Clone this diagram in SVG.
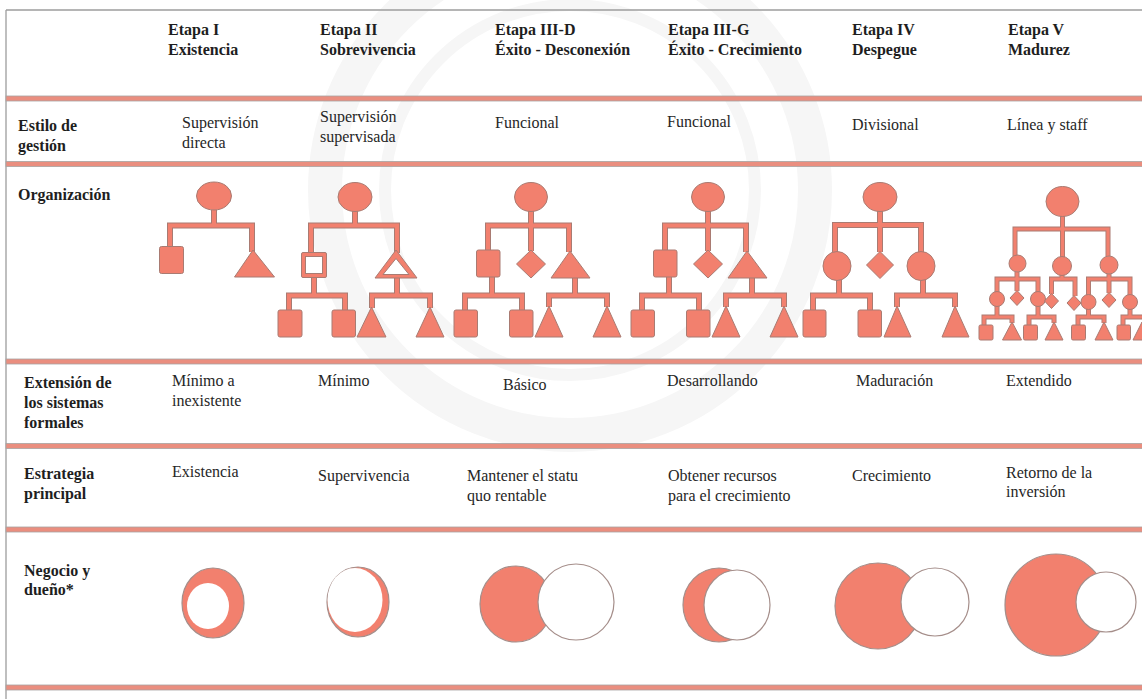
<svg xmlns="http://www.w3.org/2000/svg" xmlns:xlink="http://www.w3.org/1999/xlink" width="1142" height="699" viewBox="0 0 1142 699">
<style>
  .hd { font-family: "Liberation Serif", "Times New Roman", serif; font-weight: bold; font-size: 16px; fill: #1e1e1e; }
  .tx { font-family: "Liberation Serif", "Times New Roman", serif; font-size: 16px; fill: #262626; }
  .band { fill: #ea8e7f; stroke: #a9a3a2; stroke-width: 0.8; }
  .frame { stroke: #9d9d9d; stroke-width: 1.3; fill: none; }
  .shp { fill: #f2806e; stroke: #a97b72; stroke-width: 1; }
  .hole { fill: #ffffff; stroke: #a97b72; stroke-width: 1; }
  .wo { fill: none; stroke: #a97b72; stroke-width: 6; stroke-linejoin: miter; }
  .wi { fill: none; stroke: #f2806e; stroke-width: 4; stroke-linejoin: miter; }
  .wo2 { fill: none; stroke: #a97b72; stroke-width: 5; }
  .wi2 { fill: none; stroke: #f2806e; stroke-width: 3.2; }
  .own { fill: #ffffff; stroke: #a58e8a; stroke-width: 1.2; }
  .bus { fill: #f2806e; stroke: #a58e8a; stroke-width: 1.2; }
  .wm { fill: none; stroke: #f6f6f6; }
</style>
<defs>
  <!-- org chart wiring, stages I to IV -->
  <path id="wires" d="
    M214,210 V225.5 M170,247 V225.5 H252 V252
    M355,211 V225.5 M311,253 V225.5 H397 V253 M314,277 V295.5 M289,310 V295.5 H345 V310 M397,277 V295.5 M372,308 V295.5 H430 V308
    M531,211 V251 M488,250 V225.5 H569 V252 M492,277 V295.5 M465,310 V295.5 H522 V310 M575,278 V295.5 M549,307 V295.5 H607 V307
    M708,211 V251 M665,250 V225.5 H746 V252 M669,277 V295.5 M642,310 V295.5 H699 V310 M752,278 V295.5 M726,307 V295.5 H784 V307
    M880,211 V252 M835,252 V225 H921 V252 M839,280 V295.5 M813,310 V295.5 H870 V310 M923,279 V295.5 M897,307 V295.5 H955 V307"/>
  <!-- stage V wiring -->
  <path id="wires5" d="
    M1062.5,216 V257 M1015,256 V229 H1108 V256
    M1017,272 V291 M997,292 V279 H1038 V292
    M1062,275 V279 M1051.5,294 V279 H1075 V296
    M1109,274 V293 M1088.5,295 V279 H1130 V295
    M997,306 V317 M984,325 V317 H1012 V323
    M1038,306 V317 M1029,325 V317 H1054 V323
    M1088.5,309 V317 M1078,325 V317 H1104 V323
    M1130,309 V317 M1123,325 V317 H1142"/>
</defs>

<rect width="1142" height="699" fill="#ffffff"/>

<!-- faint seal in the background -->
<g id="seal">
  <circle class="wm" cx="570" cy="190" r="245" stroke-width="34"/>
  <circle class="wm" cx="570" cy="190" r="185" stroke-width="12" stroke="#f8f8f8"/>
</g>

<!-- table frame and row separators -->
<g id="table">
  <path class="frame" d="M6,10 H1142 M6,10 V699"/>
  <rect class="band" x="6" y="96" width="1137" height="5"/>
  <rect class="band" x="6" y="161.5" width="1137" height="5"/>
  <rect class="band" x="6" y="359" width="1137" height="5"/>
  <rect class="band" x="6" y="443.5" width="1137" height="5"/>
  <rect class="band" x="6" y="527" width="1137" height="5"/>
  <rect class="band" x="6" y="685" width="1137" height="5"/>
</g>

<!-- column headings -->
<g id="headings">
  <text class="hd" x="168" y="35">Etapa I</text>
  <text class="hd" x="168" y="55">Existencia</text>
  <text class="hd" x="320" y="35">Etapa II</text>
  <text class="hd" x="320" y="55">Sobrevivencia</text>
  <text class="hd" x="495" y="35">Etapa III-D</text>
  <text class="hd" x="495" y="55">Éxito - Desconexión</text>
  <text class="hd" x="668" y="35">Etapa III-G</text>
  <text class="hd" x="668" y="55">Éxito - Crecimiento</text>
  <text class="hd" x="852" y="35">Etapa IV</text>
  <text class="hd" x="852" y="55">Despegue</text>
  <text class="hd" x="1008" y="35">Etapa V</text>
  <text class="hd" x="1008" y="55">Madurez</text>
</g>

<!-- row headings -->
<g id="rows">
  <text class="hd" x="18" y="131">Estilo de</text>
  <text class="hd" x="18" y="151">gestión</text>
  <text class="hd" x="18" y="200">Organización</text>
  <text class="hd" x="24" y="388">Extensión de</text>
  <text class="hd" x="24" y="408">los sistemas</text>
  <text class="hd" x="24" y="428">formales</text>
  <text class="hd" x="24" y="479">Estrategia</text>
  <text class="hd" x="24" y="499">principal</text>
  <text class="hd" x="24" y="576">Negocio y</text>
  <text class="hd" x="24" y="595">dueño*</text>
</g>

<!-- cell texts -->
<g id="cells">
  <text class="tx" x="182" y="128">Supervisión</text>
  <text class="tx" x="182" y="148">directa</text>
  <text class="tx" x="320" y="122">Supervisión</text>
  <text class="tx" x="320" y="142">supervisada</text>
  <text class="tx" x="495" y="128">Funcional</text>
  <text class="tx" x="667" y="127">Funcional</text>
  <text class="tx" x="852" y="130">Divisional</text>
  <text class="tx" x="1007" y="130">Línea y staff</text>

  <text class="tx" x="172" y="386">Mínimo a</text>
  <text class="tx" x="172" y="406">inexistente</text>
  <text class="tx" x="318" y="386">Mínimo</text>
  <text class="tx" x="503" y="390">Básico</text>
  <text class="tx" x="667" y="386">Desarrollando</text>
  <text class="tx" x="856" y="386">Maduración</text>
  <text class="tx" x="1006" y="386">Extendido</text>

  <text class="tx" x="172" y="477">Existencia</text>
  <text class="tx" x="318" y="481">Supervivencia</text>
  <text class="tx" x="467" y="481">Mantener el statu</text>
  <text class="tx" x="467" y="501">quo rentable</text>
  <text class="tx" x="668" y="481">Obtener recursos</text>
  <text class="tx" x="668" y="501">para el crecimiento</text>
  <text class="tx" x="852" y="481">Crecimiento</text>
  <text class="tx" x="1006" y="478">Retorno de la</text>
  <text class="tx" x="1006" y="497">inversión</text>
</g>

<!-- connectors of the org charts -->
<g id="connectors">
  <use xlink:href="#wires" class="wo"/>
  <use xlink:href="#wires5" class="wo2"/>
  <use xlink:href="#wires" class="wi"/>
  <use xlink:href="#wires5" class="wi2"/>
</g>

<!-- stage I chart -->
<g id="org-1">
  <ellipse class="shp" cx="214" cy="196" rx="17.5" ry="14"/>
  <rect class="shp" x="159.5" y="246.5" width="24" height="27" rx="2"/>
  <polygon class="shp" points="253,250 274.5,277 234.5,277"/>
</g>

<!-- stage II chart -->
<g id="org-2">
  <ellipse class="shp" cx="355" cy="197" rx="17" ry="14.5"/>
  <rect class="shp" x="301.5" y="252.5" width="25" height="25" rx="1.5"/>
  <rect class="hole" x="305.5" y="256.5" width="17" height="17"/>
  <polygon class="shp" points="396,250 417,278 375,278"/>
  <polygon class="hole" points="396,258.5 409,274.5 383,274.5"/>
  <rect class="shp" x="278" y="310" width="24" height="27" rx="2"/>
  <rect class="shp" x="332" y="310" width="23.5" height="27" rx="2"/>
  <polygon class="shp" points="371.5,307 386,337 357,337"/>
  <polygon class="shp" points="430,307 444,337 416,337"/>
</g>

<!-- stage III-D chart -->
<g id="org-3d">
  <ellipse class="shp" cx="531" cy="197" rx="16.5" ry="14.5"/>
  <rect class="shp" x="476.5" y="250" width="23.5" height="27" rx="2"/>
  <polygon class="shp" points="531,250 545.5,264 531,278 516.5,264"/>
  <polygon class="shp" points="570,251 590,278 551,278"/>
  <rect class="shp" x="454" y="310" width="23.5" height="27" rx="2"/>
  <rect class="shp" x="509.5" y="310" width="23.5" height="27" rx="2"/>
  <polygon class="shp" points="549,306 563,337 535,337"/>
  <polygon class="shp" points="607,306 621,337 593,337"/>
</g>

<!-- stage III-G chart -->
<g id="org-3g" transform="translate(177,0)">
  <ellipse class="shp" cx="531" cy="197" rx="16.5" ry="14.5"/>
  <rect class="shp" x="476.5" y="250" width="23.5" height="27" rx="2"/>
  <polygon class="shp" points="531,250 545.5,264 531,278 516.5,264"/>
  <polygon class="shp" points="570,251 590,278 551,278"/>
  <rect class="shp" x="454" y="310" width="23.5" height="27" rx="2"/>
  <rect class="shp" x="509.5" y="310" width="23.5" height="27" rx="2"/>
  <polygon class="shp" points="549,306 563,337 535,337"/>
  <polygon class="shp" points="607,306 621,337 593,337"/>
</g>

<!-- stage IV chart -->
<g id="org-4">
  <ellipse class="shp" cx="880" cy="197" rx="17" ry="14.5"/>
  <ellipse class="shp" cx="837" cy="266" rx="14" ry="14.5"/>
  <polygon class="shp" points="880,251.5 893.5,265 880,278.5 866.5,265"/>
  <ellipse class="shp" cx="921" cy="266" rx="14" ry="14.5"/>
  <rect class="shp" x="803" y="310" width="23" height="27" rx="2"/>
  <rect class="shp" x="858" y="310" width="23.5" height="27" rx="2"/>
  <polygon class="shp" points="897,306 911,337 884,337"/>
  <polygon class="shp" points="955,306 969,337 942,337"/>
</g>

<!-- stage V chart -->
<g id="org-5">
  <ellipse class="shp" cx="1062.5" cy="201.5" rx="16.5" ry="15"/>
  <circle class="shp" cx="1017.5" cy="263.5" r="8.5"/>
  <circle class="shp" cx="1062" cy="266" r="9.5"/>
  <circle class="shp" cx="1109" cy="265" r="9"/>
  <circle class="shp" cx="997" cy="299" r="7.5"/>
  <polygon class="shp" points="1017,290.5 1024,298 1017,305.5 1010,298"/>
  <circle class="shp" cx="1038" cy="299" r="7.5"/>
  <polygon class="shp" points="1051.5,293.5 1058.5,301 1051.5,308.5 1044.5,301"/>
  <polygon class="shp" points="1074,295.5 1081,303 1074,310.5 1067,303"/>
  <circle class="shp" cx="1088.5" cy="302" r="7.5"/>
  <polygon class="shp" points="1109,292.5 1116,300 1109,307.5 1102,300"/>
  <circle class="shp" cx="1130" cy="302" r="7.5"/>
  <rect class="shp" x="979" y="325" width="14" height="15" rx="1.5"/>
  <polygon class="shp" points="1012,322 1021.5,340 1002.5,340"/>
  <rect class="shp" x="1023.5" y="325" width="14" height="15" rx="1.5"/>
  <polygon class="shp" points="1054,322 1063,340 1045,340"/>
  <rect class="shp" x="1071.5" y="325" width="14" height="15" rx="1.5"/>
  <polygon class="shp" points="1104,322 1113,340 1095,340"/>
  <rect class="shp" x="1117" y="325" width="13.5" height="15" rx="1.5"/>
  <polygon class="shp" points="1142,322 1151,340 1133,340"/>
</g>

<!-- business and owner circles -->
<g id="owner-1">
  <ellipse class="bus" cx="213" cy="603" rx="31" ry="35"/>
  <ellipse cx="208" cy="606" rx="21" ry="23" fill="#ffffff"/>
</g>
<g id="owner-2">
  <ellipse class="bus" cx="358" cy="602" rx="31" ry="35"/>
  <ellipse cx="355" cy="600" rx="27.5" ry="32" fill="#ffffff"/>
</g>
<g id="owner-3d">
  <ellipse class="bus" cx="516" cy="604" rx="36" ry="38"/>
  <ellipse class="own" cx="576" cy="602" rx="38" ry="38"/>
</g>
<g id="owner-3g">
  <ellipse class="bus" cx="719" cy="605" rx="36" ry="37"/>
  <ellipse class="own" cx="737" cy="605" rx="33" ry="35"/>
</g>
<g id="owner-4">
  <circle class="bus" cx="878" cy="606" r="43"/>
  <circle class="own" cx="935" cy="602" r="34"/>
</g>
<g id="owner-5">
  <circle class="bus" cx="1056" cy="605" r="51"/>
  <circle class="own" cx="1106" cy="602" r="30"/>
</g>
</svg>
